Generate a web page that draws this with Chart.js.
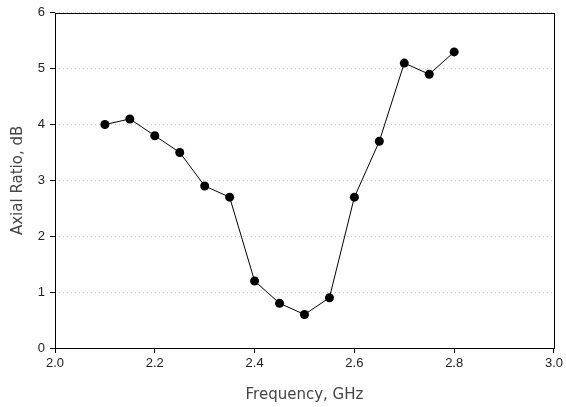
<!DOCTYPE html>
<html>
<head>
<meta charset="utf-8">
<script src="https://cdn.jsdelivr.net/npm/chart.js@4"></script>
<style>
  html, body { margin: 0; padding: 0; background: #fff; }
  #grafico { display: block; }
</style>
</head>
<body>
<canvas id="grafico" width="566" height="407"></canvas>
<script>
const frequencias = [2.1, 2.15, 2.2, 2.25, 2.3, 2.35, 2.4, 2.45, 2.5, 2.55, 2.6, 2.65, 2.7, 2.75, 2.8];
const razaoAxial = [4.0, 4.1, 3.8, 3.5, 2.9, 2.7, 1.2, 0.8, 0.6, 0.9, 2.7, 3.7, 5.1, 4.9, 5.3];
const tituloX = 'Frequency, GHz';
const tituloY = 'Axial Ratio, dB';

const pontos = frequencias.map((f, i) => ({ x: f, y: razaoAxial[i] }));

// moldura em volta da área do gráfico
const moldura = {
    id: 'moldura',
    afterDatasetsDraw(chart) {
        const { ctx, chartArea: a } = chart;
        ctx.save();
        ctx.strokeStyle = '#000';
        ctx.lineWidth = 1;
        ctx.strokeRect(Math.round(a.left) + 0.5, Math.round(a.top) + 0.5,
            Math.round(a.right - a.left), Math.round(a.bottom - a.top));
        ctx.restore();
    }
};

const fonte = { family: 'Liberation Sans, Arial, sans-serif', size: 13 };
const fonteTitulo = { family: 'DejaVu Sans, sans-serif', size: 15 };

new Chart(document.getElementById('grafico').getContext('2d'), {
    type: 'line',
    data: {
        datasets: [{
            data: pontos,
            borderColor: '#000',
            borderWidth: 1,
            backgroundColor: '#000',
            pointBackgroundColor: '#000',
            pointBorderColor: '#000',
            pointRadius: 4.5,
            pointBorderWidth: 0,
            tension: 0
        }]
    },
    options: {
        responsive: false,
        animation: false,
        layout: { padding: { top: 11, right: 10, left: 0, bottom: 0 } },
        plugins: { legend: { display: false }, tooltip: { enabled: false } },
        scales: {
            x: {
                type: 'linear',
                min: 2.0,
                max: 3.0,
                afterFit(scale) { scale.height = 59; },
                ticks: {
                    stepSize: 0.2,
                    color: '#222',
                    font: fonte,
                    padding: 3,
                    maxRotation: 0,
                    callback: v => v.toFixed(1)
                },
                grid: { drawOnChartArea: false, tickLength: 5, tickColor: '#000' },
                border: { display: false },
                title: { display: true, text: tituloX, color: '#444', font: fonteTitulo, padding: { top: 0, bottom: 3 } }
            },
            y: {
                min: 0,
                max: 6,
                afterFit(scale) { scale.width = 55; },
                ticks: { stepSize: 1, color: '#222', font: fonte, padding: 5 },
                grid: { color: '#c8c8c8', tickLength: 5, tickColor: '#000', tickBorderDash: [] },
                border: { display: false, dash: [1, 3] },
                title: { display: true, text: tituloY, color: '#444', font: fonteTitulo, padding: { top: 9, bottom: 9 } }
            }
        }
    },
    plugins: [moldura]
});
</script>
</body>
</html>
